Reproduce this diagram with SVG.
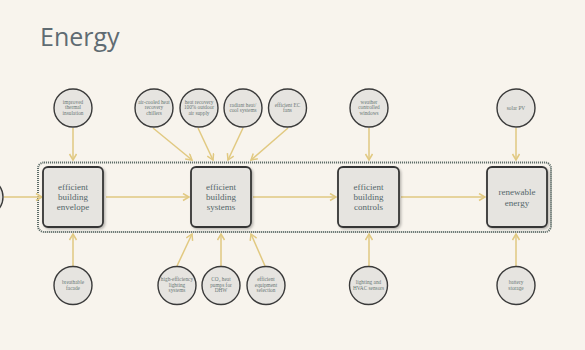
<svg xmlns="http://www.w3.org/2000/svg" width="585" height="350" viewBox="0 0 585 350">
<defs>
<marker id="ah" markerUnits="userSpaceOnUse" markerWidth="10" markerHeight="10" refX="7" refY="4" orient="auto">
<path d="M1,0.5 L7,4 L1,7.5" fill="none" stroke="#e1c981" stroke-width="1.5"/>
</marker>
<filter id="sh" x="-20%" y="-20%" width="150%" height="150%">
<feDropShadow dx="1.5" dy="1.5" stdDeviation="1.2" flood-color="#000" flood-opacity="0.25"/>
</filter>
</defs>
<style>
.bg{fill:#f8f4ed}
.title{font-family:"Open Sans","Liberation Sans",sans-serif;font-size:25px;fill:#5f6b72}
.box{fill:#e6e4e0;stroke:#353535;stroke-width:1.8}
.circ{fill:#e6e4e0;stroke:#3a3a3a;stroke-width:1.4}
.bt{font-family:"Liberation Serif",serif;font-size:9px;fill:#55676a;text-anchor:middle}
.ct{font-family:"Liberation Serif",serif;font-size:5.3px;fill:#6a7876;text-anchor:middle}
.con{fill:none;stroke:#e1c981;stroke-width:1.5;marker-end:url(#ah)}
.frame{fill:none;stroke:#5d6c68;stroke-width:2;stroke-dasharray:1.1 0.9}
</style>
<rect class="bg" width="585" height="350"/>
<text class="title" x="40" y="46">Energy</text>
<rect id="frame" class="frame" x="38" y="162.5" width="513" height="69.5" rx="6"/>
<g id="connectors">
<path class="con" d="M4,197 H42"/>
<path class="con" d="M106,197 H189"/>
<path class="con" d="M253,197 H336"/>
<path class="con" d="M401,197 H485"/>
<path class="con" d="M73,128 V160"/>
<path class="con" d="M153,128 L192,160"/>
<path class="con" d="M198,128 L213,160"/>
<path class="con" d="M243,128 L228,160"/>
<path class="con" d="M288,128 L251,160"/>
<path class="con" d="M369,128 V160"/>
<path class="con" d="M516,128 V160"/>
<path class="con" d="M73,266 V234"/>
<path class="con" d="M177,266 L192,234"/>
<path class="con" d="M221,266 V234"/>
<path class="con" d="M265,266 L251,234"/>
<path class="con" d="M369,266 V234"/>
<path class="con" d="M516,266 V234"/>
</g>
<g id="n-left"><circle class="circ" cx="-16" cy="197" r="19"/></g>
<g id="n-envelope"><rect class="box" x="43" y="167" width="60" height="60" rx="5" filter="url(#sh)"/>
<text class="bt" x="73" y="190">efficient</text><text class="bt" x="73" y="200">building</text><text class="bt" x="73" y="210">envelope</text></g>
<g id="n-systems"><rect class="box" x="191" y="167" width="60" height="60" rx="5" filter="url(#sh)"/>
<text class="bt" x="221" y="190">efficient</text><text class="bt" x="221" y="200">building</text><text class="bt" x="221" y="210">systems</text></g>
<g id="n-controls"><rect class="box" x="338" y="167" width="61" height="60" rx="5" filter="url(#sh)"/>
<text class="bt" x="368.5" y="190">efficient</text><text class="bt" x="368.5" y="200">building</text><text class="bt" x="368.5" y="210">controls</text></g>
<g id="n-renewable"><rect class="box" x="487" y="167" width="60" height="60" rx="5" filter="url(#sh)"/>
<text class="bt" x="517" y="195">renewable</text><text class="bt" x="517" y="206">energy</text></g>
<g id="c1"><circle class="circ" cx="73" cy="108" r="19"/><text class="ct" x="73" y="103.5">improved</text><text class="ct" x="73" y="109">thermal</text><text class="ct" x="73" y="114.5">insulation</text></g>
<g id="c2"><circle class="circ" cx="154" cy="108" r="19"/><text class="ct" x="154" y="103.5">air-cooled heat</text><text class="ct" x="154" y="109">recovery</text><text class="ct" x="154" y="114.5">chillers</text></g>
<g id="c3"><circle class="circ" cx="199" cy="108" r="19"/><text class="ct" x="199" y="103.5">heat recovery</text><text class="ct" x="199" y="109">100% outdoor</text><text class="ct" x="199" y="114.5">air supply</text></g>
<g id="c4"><circle class="circ" cx="243" cy="108" r="19"/><text class="ct" x="243" y="106.5">radiant heat/</text><text class="ct" x="243" y="112">cool systems</text></g>
<g id="c5"><circle class="circ" cx="287.5" cy="108" r="19"/><text class="ct" x="287.5" y="106.5">efficient EC</text><text class="ct" x="287.5" y="112">fans</text></g>
<g id="c6"><circle class="circ" cx="369" cy="108" r="19"/><text class="ct" x="369" y="103.5">weather</text><text class="ct" x="369" y="109">controlled</text><text class="ct" x="369" y="114.5">windows</text></g>
<g id="c7"><circle class="circ" cx="516" cy="108" r="19"/><text class="ct" x="516" y="109.5">solar PV</text></g>
<g id="c8"><circle class="circ" cx="73" cy="285.5" r="19"/><text class="ct" x="73" y="284">breathable</text><text class="ct" x="73" y="289.5">facade</text></g>
<g id="c9"><circle class="circ" cx="177" cy="285.5" r="19"/><text class="ct" x="177" y="281">high-efficiency</text><text class="ct" x="177" y="286.5">lighting</text><text class="ct" x="177" y="292">systems</text></g>
<g id="c10"><circle class="circ" cx="221" cy="285.5" r="19"/><text class="ct" x="221" y="281">CO₂ heat</text><text class="ct" x="221" y="286.5">pumps for</text><text class="ct" x="221" y="292">DHW</text></g>
<g id="c11"><circle class="circ" cx="266" cy="285.5" r="19"/><text class="ct" x="266" y="281">efficient</text><text class="ct" x="266" y="286.5">equipment</text><text class="ct" x="266" y="292">selection</text></g>
<g id="c12"><circle class="circ" cx="368.5" cy="285.5" r="19"/><text class="ct" x="368.5" y="284">lighting and</text><text class="ct" x="368.5" y="289.5">HVAC sensors</text></g>
<g id="c13"><circle class="circ" cx="516" cy="285.5" r="19"/><text class="ct" x="516" y="284">battery</text><text class="ct" x="516" y="289.5">storage</text></g>
</svg>
